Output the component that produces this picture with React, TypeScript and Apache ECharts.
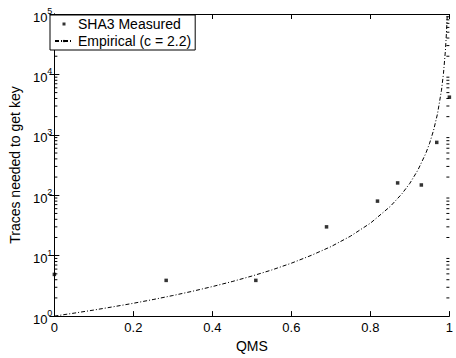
import React, { useEffect, useRef } from "react";
import * as echarts from "echarts";

const measuredQMS = [0, 0.283, 0.51, 0.689, 0.818, 0.869, 0.929, 0.968, 1.0];
const measuredTraces = [4.9, 3.9, 3.9, 30, 80, 160, 148, 750, 4200];

const empiricalQMS = [0, 0.05, 0.1, 0.15, 0.2, 0.25, 0.3, 0.35, 0.4, 0.45, 0.5, 0.55, 0.6, 0.65, 0.7, 0.75, 0.8, 0.85, 0.88, 0.9, 0.92, 0.94, 0.95, 0.96, 0.97, 0.98, 0.985, 0.99, 0.993, 0.9947];
const empiricalTraces = [1, 1.12, 1.26, 1.43, 1.63, 1.88, 2.19, 2.58, 3.08, 3.73, 4.6, 5.79, 7.51, 10.1, 14.1, 21.1, 34.5, 65, 106, 158, 259, 488, 728, 1190, 2240, 5480, 10300, 25100, 55000, 100000];

const xTicks = [0, 0.2, 0.4, 0.6, 0.8, 1];
const minorTicks = [
  2, 3, 4, 5, 6, 7, 8, 9,
  20, 30, 40, 50, 60, 70, 80, 90,
  200, 300, 400, 500, 600, 700, 800, 900,
  2000, 3000, 4000, 5000, 6000, 7000, 8000, 9000,
  20000, 30000, 40000, 50000, 60000, 70000, 80000, 90000,
];

const FONT = "Arial, 'Liberation Sans', Helvetica, sans-serif";

export default function App() {
  const ref = useRef<HTMLDivElement>(null);
  useEffect(() => {
    document.body.style.margin = "0";
    const chart = echarts.init(ref.current!, null, { renderer: "svg" });
    const axisLine = { show: true, lineStyle: { color: "#000", width: 1 } };
    const tick = { show: true, inside: true, length: 5, lineStyle: { color: "#000" } };
    chart.setOption({
      animation: false,
      backgroundColor: "#fff",
      textStyle: { fontFamily: FONT },
      grid: { left: 47, right: 3, top: 14, bottom: 35, containLabel: false },
      legend: {
        left: 50,
        top: 15,
        orient: "vertical",
        backgroundColor: "#fff",
        borderColor: "#000",
        borderWidth: 1,
        borderRadius: 0,
        padding: [2, 4, 2, 4],
        itemGap: 3,
        itemWidth: 18,
        itemHeight: 3,
        textStyle: { fontFamily: FONT, fontSize: 14, color: "#000" },
        data: [
          { name: "SHA3 Measured", icon: "path://M0,0h1v1h-1z" },
          { name: "Empirical (c = 2.2)" },
        ],
      },
      xAxis: [
        {
          type: "value",
          min: 0,
          max: 1,
          interval: 0.2,
          position: "bottom",
          name: "QMS",
          nameLocation: "middle",
          nameGap: 17,
          nameTextStyle: { fontFamily: FONT, fontSize: 14, color: "#000" },
          axisLine,
          axisTick: tick,
          splitLine: { show: false },
          axisLabel: {
            fontFamily: FONT,
            fontSize: 13,
            color: "#000",
            margin: 5,
            formatter: (v: number) => {
              const t = xTicks.find((k) => Math.abs(k - v) < 1e-9);
              return t === undefined ? "" : String(t);
            },
          },
        },
        {
          type: "value",
          min: 0,
          max: 1,
          interval: 0.2,
          position: "top",
          axisLine,
          axisTick: tick,
          axisLabel: { show: false },
          splitLine: { show: false },
        },
      ],
      yAxis: [
        {
          type: "log",
          logBase: 10,
          min: 1,
          max: 100000,
          position: "left",
          name: "Traces needed to get key",
          nameLocation: "middle",
          nameGap: 29,
          nameTextStyle: { fontFamily: FONT, fontSize: 14, color: "#000" },
          axisLine,
          axisTick: tick,
          splitLine: { show: false },
          axisLabel: {
            margin: 2,
            formatter: (v: number) => `{b|10}{s|${Math.round(Math.log10(v))}}`,
            rich: {
              b: { fontFamily: FONT, fontSize: 13, color: "#000", padding: [6, 0, 0, 0] },
              s: { fontFamily: FONT, fontSize: 9, color: "#000", padding: [0, 0, 6, 0] },
            },
          },
        },
        {
          type: "log",
          logBase: 10,
          min: 1,
          max: 100000,
          position: "right",
          axisLine,
          axisTick: tick,
          axisLabel: { show: false },
          splitLine: { show: false },
        },
      ],
      series: [
        {
          name: "minor",
          type: "custom",
          xAxisIndex: 0,
          yAxisIndex: 0,
          silent: true,
          clip: false,
          data: minorTicks.map((v) => [0, v]),
          renderItem: (_p: any, api: any) => {
            const v = api.value(1);
            const pl = api.coord([0, v]);
            const pr = api.coord([1, v]);
            const st = { stroke: "#000", lineWidth: 1 };
            return {
              type: "group",
              children: [
                { type: "line", shape: { x1: pl[0], y1: pl[1], x2: pl[0] + 3, y2: pl[1] }, style: st },
                { type: "line", shape: { x1: pr[0] - 3, y1: pr[1], x2: pr[0], y2: pr[1] }, style: st },
              ],
            };
          },
        },
        {
          name: "Empirical (c = 2.2)",
          type: "line",
          symbol: "none",
          smooth: false,
          data: empiricalQMS.map((x, i) => [x, empiricalTraces[i]]),
          lineStyle: { color: "#000", width: 1, type: [4, 2, 1, 2] },
          itemStyle: { color: "#000" },
          z: 3,
        },
        {
          name: "SHA3 Measured",
          type: "scatter",
          symbol: "rect",
          symbolSize: 3.5,
          data: measuredQMS.map((x, i) => [x, measuredTraces[i]]),
          itemStyle: { color: "#000" },
          z: 4,
        },
      ],
    });
    return () => chart.dispose();
  }, []);
  return <div ref={ref} style={{ width: 456, height: 358 }} />;
}
